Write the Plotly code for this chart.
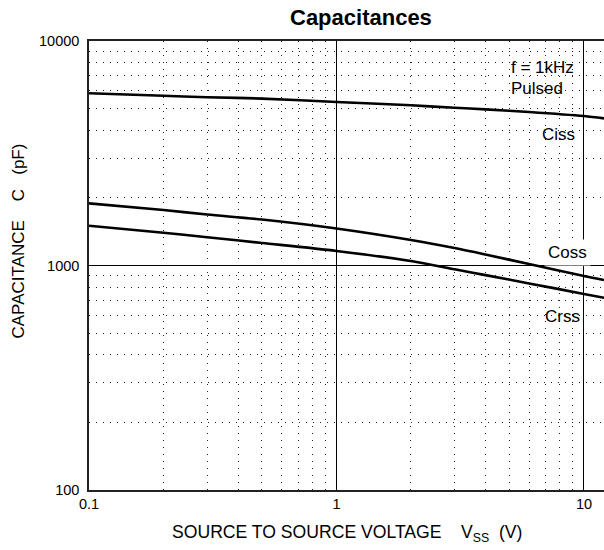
import plotly.graph_objects as go
import numpy as np

# ---- data ----
vss = [0.1, 0.2, 0.3, 0.5, 1, 2, 3, 4, 6, 10, 12.05]
ciss = [5850, 5700, 5620, 5540, 5350, 5170, 5040, 4960, 4830, 4630, 4520]
coss = [1892, 1767, 1687, 1603, 1462, 1299, 1196, 1119, 1015, 898, 862]
crss = [1504, 1399, 1337, 1260, 1161, 1047, 962, 906, 832, 747, 718]

x_tickvals = [0.1, 1, 10]
x_ticktext = ["0.1", "1", "10"]
y_tickvals = [100, 1000, 10000]
y_ticktext = ["100", "1000", "10000"]

FONT = "Liberation Sans, Arial, sans-serif"
NB = "\u00a0"

fig = go.Figure()
for name, vals in [("Ciss", ciss), ("Coss", coss), ("Crss", crss)]:
    fig.add_trace(go.Scatter(x=vss, y=vals, mode="lines", name=name,
                             line=dict(color="black", width=2.6, shape="spline", smoothing=0.8),
                             showlegend=False, hoverinfo="skip"))

W, H = 604, 550
L, R, T, B = 89, 0, 41, 60
pw, ph = W - L - R, H - T - B

def px(xp):
    return (xp - L) / pw

def py(yp):
    return (H - B - yp) / ph

dot = "1px,6px"
fig.update_layout(
    width=W, height=H,
    margin=dict(l=L, r=R, t=T, b=B),
    paper_bgcolor="white", plot_bgcolor="white",
    font=dict(family=FONT, color="black", size=14.5),
    xaxis=dict(type="log", range=[-1, np.log10(12.05)],
               tickvals=x_tickvals, ticktext=x_ticktext,
               showgrid=True, gridcolor="black", gridwidth=1,
               showline=True, linecolor="#222", linewidth=1.5, mirror=True,
               ticks="", tickfont=dict(size=14.5), zeroline=False,
               minor=dict(dtick="D1", showgrid=True, gridcolor="#222",
                          griddash=dot, gridwidth=1, ticks="")),
    yaxis=dict(type="log", range=[2, 4],
               tickvals=y_tickvals, ticktext=y_ticktext,
               showgrid=True, gridcolor="black", gridwidth=1,
               showline=True, linecolor="#222", linewidth=1.5, mirror=False,
               ticks="outside", ticklen=5, tickcolor="rgba(0,0,0,0)",
               tickfont=dict(size=14.5), zeroline=False,
               minor=dict(dtick="D1", showgrid=True, gridcolor="#222",
                          griddash=dot, gridwidth=1, ticks="")),
)

ann = dict(xref="paper", yref="paper", showarrow=False,
           font=dict(family=FONT, size=17, color="black"))
fig.add_annotation(text="f = 1kHz", x=px(509), y=py(67.7), xanchor="left", yanchor="middle", **ann)
fig.add_annotation(text="Pulsed", x=px(509), y=py(88), xanchor="left", yanchor="middle", **ann)
fig.add_annotation(text="Ciss", x=px(540), y=py(134), xanchor="left", yanchor="middle", **ann)
fig.add_annotation(text="Coss", x=px(544), y=py(252.5), xanchor="left", yanchor="middle",
                   bgcolor="white", borderpad=3, **ann)
fig.add_annotation(text="Crss", x=px(543), y=py(316), xanchor="left", yanchor="middle", **ann)

# title
fig.add_annotation(text="<b>Capacitances</b>", xref="paper", yref="paper",
                   x=px(361), y=py(17), xanchor="center", yanchor="middle", showarrow=False,
                   font=dict(family=FONT, size=22, color="black"))
# x axis title
fig.add_annotation(text="SOURCE TO SOURCE VOLTAGE" + NB * 4 + "V<sub>SS</sub>" + NB * 2 + "(V)",
                   xref="paper", yref="paper", x=px(347), y=py(533),
                   xanchor="center", yanchor="middle", showarrow=False,
                   font=dict(family=FONT, size=17.6, color="black"))
# y axis title
fig.add_annotation(text="CAPACITANCE" + NB * 4 + "C" + NB * 3 + "(pF)",
                   xref="paper", yref="paper", x=px(17.5), y=py(241),
                   xanchor="center", yanchor="middle", textangle=-90, showarrow=False,
                   font=dict(family=FONT, size=17, color="black"))

fig.write_html("out.html", config={"displayModeBar": False},
               post_script="document.body.style.margin='0px';document.body.style.padding='0px';")
